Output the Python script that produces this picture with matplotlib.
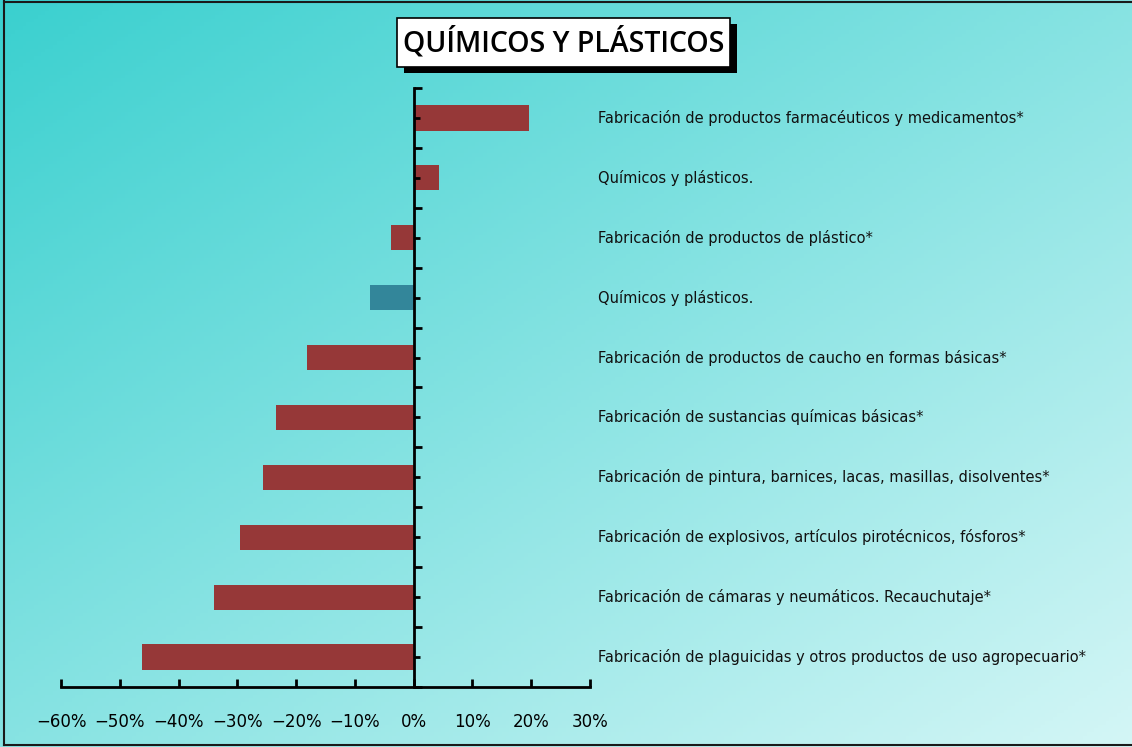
import matplotlib.pyplot as plt
import matplotlib.transforms as mtransforms
from matplotlib.patches import Rectangle
from matplotlib.lines import Line2D
import numpy as np

# Datos (de arriba hacia abajo)
categorias = [
    "Fabricación de productos farmacéuticos y medicamentos*",
    "Químicos y plásticos.",
    "Fabricación de productos de plástico*",
    "Químicos y plásticos.",
    "Fabricación de productos de caucho en formas básicas*",
    "Fabricación de sustancias químicas básicas*",
    "Fabricación de pintura, barnices, lacas, masillas, disolventes*",
    "Fabricación de explosivos, artículos pirotécnicos, fósforos*",
    "Fabricación de cámaras y neumáticos. Recauchutaje*",
    "Fabricación de plaguicidas y otros productos de uso agropecuario*",
]
variacion = [19.7, 4.3, -3.9, -7.5, -18.1, -23.5, -25.6, -29.6, -34.0, -46.3]
es_total = [False, False, False, True, False, False, False, False, False, False]
ticks_x = [-60, -50, -40, -30, -20, -10, 0, 10, 20, 30]

W, H = 1132, 747
fig = plt.figure(figsize=(W / 100, H / 100), dpi=100)

# Fondo degradado diagonal
bg = fig.add_axes([0, 0, 1, 1])
xx, yy = np.meshgrid(np.linspace(0, 1, 300), np.linspace(0, 1, 200))
t = (xx + yy) / 2
c0 = np.array([58, 208, 207]) / 255
c1 = np.array([212, 246, 246]) / 255
img = c0[None, None, :] * (1 - t[..., None]) + c1[None, None, :] * t[..., None]
bg.imshow(img, aspect='auto', extent=[0, 1, 1, 0])
bg.set_xlim(0, 1)
bg.set_ylim(1, 0)
bg.axis('off')

# Borde de la figura
for (x0, y0, x1, y1) in [(4, 1, 4, 745), (4, 1.5, 1132, 1.5), (4, 745, 1132, 745)]:
    fig.add_artist(Line2D([x0 / W, x1 / W], [1 - y0 / H, 1 - y1 / H],
                          color='#1a1a1a', lw=1.5, transform=fig.transFigure))

# Ejes principales
ax = fig.add_axes([61 / W, 1 - 687 / H, 529 / W, 599 / H])
ax.patch.set_alpha(0)

n = len(categorias)
ypos = np.arange(n)[::-1]
colores = ['#33869A' if b else '#963838' for b in es_total]
ax.barh(ypos, variacion, height=0.42, color=colores, zorder=1)

ax.set_xlim(-60, 30)
ax.set_ylim(-0.5, n - 0.5)

ax.spines['top'].set_visible(False)
ax.spines['right'].set_visible(False)
ax.spines['left'].set_position(('data', 0))
ax.spines['left'].set_linewidth(2)
ax.spines['left'].set_zorder(3)
ax.spines['bottom'].set_linewidth(2)

ax.set_xticks(ticks_x)
ax.set_xticklabels([f"{v}%".replace('-', '−') for v in ticks_x], fontsize=12)
ax.tick_params(axis='x', direction='in', length=6, width=2, pad=19)

ax.set_yticks(np.arange(n + 1) - 0.5)
ax.set_yticks(ypos, minor=True)
ax.set_yticklabels([])
ax.tick_params(axis='y', which='major', direction='in', length=6, width=2)
ax.tick_params(axis='y', which='minor', direction='in', length=4, width=2)

trans = mtransforms.blended_transform_factory(ax.transAxes, ax.transData)
for y, lab in zip(ypos, categorias):
    ax.text(1.015, y, lab, transform=trans, fontsize=10.5, ha='left',
            va='center', color='#111111')

# Título con caja y sombra
bx0, by0, bx1, by1 = 397, 18, 730, 67
fig.add_artist(Rectangle((bx0 / W + 7 / W, 1 - (by1 + 6) / H), (bx1 - bx0) / W, (by1 - by0) / H,
                         transform=fig.transFigure, facecolor='black', edgecolor='none'))
fig.add_artist(Rectangle((bx0 / W, 1 - by1 / H), (bx1 - bx0) / W, (by1 - by0) / H,
                         transform=fig.transFigure, facecolor='white', edgecolor='black', lw=1.2))
fig.text((bx0 + bx1) / 2 / W, 1 - 43 / H, "QUÍMICOS Y PLÁSTICOS", fontsize=20.5,
         family='Open Sans', fontweight='semibold', ha='center', va='center', color='black')

fig.savefig('out.png', dpi=100)
